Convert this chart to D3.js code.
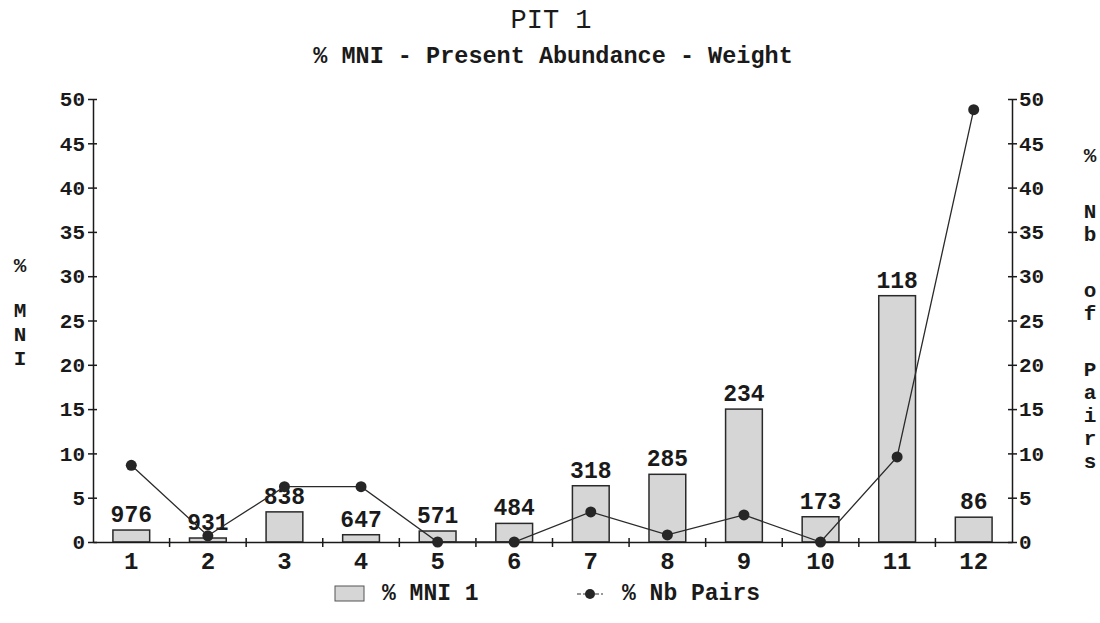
<!DOCTYPE html>
<html lang="en">
<head>
    <meta charset="UTF-8">
    <title>PIT 1</title>
    <script src="https://d3js.org/d3.v7.min.js"></script>
    <style>
        body { margin: 0; background: #fff; }
        text { font-family: "Courier New", "Liberation Mono", monospace; fill: #1a1a1a; }
        .bold { font-weight: bold; }
        .bar { fill: #d6d6d6; stroke: #2a2a2a; stroke-width: 1.5px; }
        .pairs { fill: none; stroke: #2a2a2a; stroke-width: 1.3px; }
        .dot { fill: #262626; }
        .axis path, .axis line { stroke: #1a1a1a; stroke-width: 1.5px; }
    </style>
</head>
<body>
<div id="chart"></div>
<script>
    // chart data
    const categories = ["1", "2", "3", "4", "5", "6", "7", "8", "9", "10", "11", "12"];
    const mniPct = [1.35, 0.45, 3.4, 0.82, 1.24, 2.1, 6.35, 7.64, 15.0, 2.85, 27.8, 2.8];
    const pairsPct = [8.66, 0.7, 6.25, 6.25, 0, 0, 3.4, 0.8, 3.05, 0, 9.6, 48.8];
    const weightLabels = [976, 931, 838, 647, 571, 484, 318, 285, 234, 173, 118, 86];
    const yTicks = [0, 5, 10, 15, 20, 25, 30, 35, 40, 45, 50];
    const leftTitle = ["%", "", "M", "N", "I"];
    const rightTitle = ["%", "", "N", "b", "", "o", "f", "", "P", "a", "i", "r", "s"];

    const width = 1100, height = 623;
    const margin = {top: 99, right: 88, bottom: 81, left: 93};

    const svg = d3.select("#chart").append("svg")
        .attr("width", width)
        .attr("height", height);

    const x = d3.scaleBand()
        .domain(categories)
        .range([margin.left, width - margin.right])
        .paddingInner(0.52)
        .paddingOuter(0.26);

    const yLeft = d3.scaleLinear().domain([0, 50]).range([height - margin.bottom, margin.top]);
    const yRight = d3.scaleLinear().domain([0, 50]).range([height - margin.bottom, margin.top]);

    // titles
    svg.append("text")
        .attr("x", 551).attr("y", 28)
        .attr("text-anchor", "middle")
        .style("font-size", "27px")
        .text("PIT 1");
    svg.append("text")
        .attr("class", "bold")
        .attr("x", 553).attr("y", 63)
        .attr("text-anchor", "middle")
        .style("font-size", "23.5px")
        .text("% MNI - Present Abundance - Weight");

    // bars
    svg.append("g").selectAll("rect")
        .data(mniPct)
        .join("rect")
        .attr("class", "bar")
        .attr("x", (d, i) => x(categories[i]))
        .attr("width", x.bandwidth())
        .attr("y", d => yLeft(d))
        .attr("height", d => yLeft(0) - yLeft(d));

    // value labels above the bars
    svg.append("g").selectAll("text")
        .data(mniPct)
        .join("text")
        .attr("class", "bold")
        .attr("x", (d, i) => x(categories[i]) + x.bandwidth() / 2)
        .attr("y", d => yLeft(d) - 8)
        .attr("text-anchor", "middle")
        .style("font-size", "23px")
        .text((d, i) => weightLabels[i]);

    // axes
    const bottom = height - margin.bottom;

    svg.append("g")
        .attr("class", "axis")
        .attr("transform", `translate(${margin.left},0)`)
        .call(d3.axisLeft(yLeft).tickValues(yTicks).tickSize(5).tickSizeOuter(0))
        .call(g => g.selectAll(".tick line").attr("x1", 4))
        .call(g => g.selectAll(".tick text").attr("x", -8).attr("class", "bold").style("font-size", "21px"));

    svg.append("g")
        .attr("class", "axis")
        .attr("transform", `translate(${width - margin.right},0)`)
        .call(d3.axisRight(yRight).tickValues(yTicks).tickSize(5).tickSizeOuter(0))
        .call(g => g.selectAll(".tick line").attr("x1", -4))
        .call(g => g.selectAll(".tick text").attr("x", 7).attr("class", "bold").style("font-size", "21px"));

    const xAxis = svg.append("g")
        .attr("class", "axis")
        .attr("transform", `translate(0,${bottom})`)
        .call(d3.axisBottom(x).tickSize(0).tickSizeOuter(0));
    xAxis.selectAll(".tick text")
        .attr("class", "bold")
        .attr("dy", "0.71em")
        .attr("y", 10)
        .style("font-size", "24px");
    // small ticks between categories
    xAxis.append("g").selectAll("line")
        .data(categories.slice(1))
        .join("line")
        .attr("x1", d => x(d) - x.step() * x.paddingInner() / 2)
        .attr("x2", d => x(d) - x.step() * x.paddingInner() / 2)
        .attr("y1", -4).attr("y2", 5);

    // pairs line
    const line = d3.line()
        .x((d, i) => x(categories[i]) + x.bandwidth() / 2)
        .y(d => yRight(d));

    svg.append("path")
        .datum(pairsPct)
        .attr("class", "pairs")
        .attr("d", line);

    svg.append("g").selectAll("circle")
        .data(pairsPct)
        .join("circle")
        .attr("class", "dot")
        .attr("cx", (d, i) => x(categories[i]) + x.bandwidth() / 2)
        .attr("cy", d => yRight(d))
        .attr("r", 5.5);

    // vertical axis titles, one letter per line
    let ly = 265;
    leftTitle.forEach(c => {
        if (c) {
            svg.append("text").attr("class", "bold")
                .attr("x", 20).attr("y", ly).attr("dy", "0.35em")
                .attr("text-anchor", "middle").style("font-size", "21px").text(c);
            ly += 24;
        } else {
            ly += 21;
        }
    });

    let ry = 155;
    rightTitle.forEach(c => {
        if (c) {
            svg.append("text").attr("class", "bold")
                .attr("x", 1090).attr("y", ry).attr("dy", "0.35em")
                .attr("text-anchor", "middle").style("font-size", "21px").text(c);
            ry += 23;
        } else {
            ry += 33;
        }
    });

    // legend
    const legend = svg.append("g");
    legend.append("rect").attr("class", "bar")
        .attr("x", 335).attr("y", 586).attr("width", 29).attr("height", 15)
        .style("stroke-width", "1px").style("stroke", "#555");
    legend.append("text").attr("class", "bold")
        .attr("x", 382).attr("y", 600).style("font-size", "23px").text("% MNI 1");
    legend.append("line")
        .attr("x1", 577).attr("x2", 603).attr("y1", 594).attr("y2", 594)
        .style("stroke", "#333").style("stroke-width", "1px").style("stroke-dasharray", "4,2");
    legend.append("circle").attr("class", "dot")
        .attr("cx", 590).attr("cy", 594).attr("r", 5);
    legend.append("text").attr("class", "bold")
        .attr("x", 622).attr("y", 600).style("font-size", "23px").text("% Nb Pairs");
</script>
</body>
</html>
